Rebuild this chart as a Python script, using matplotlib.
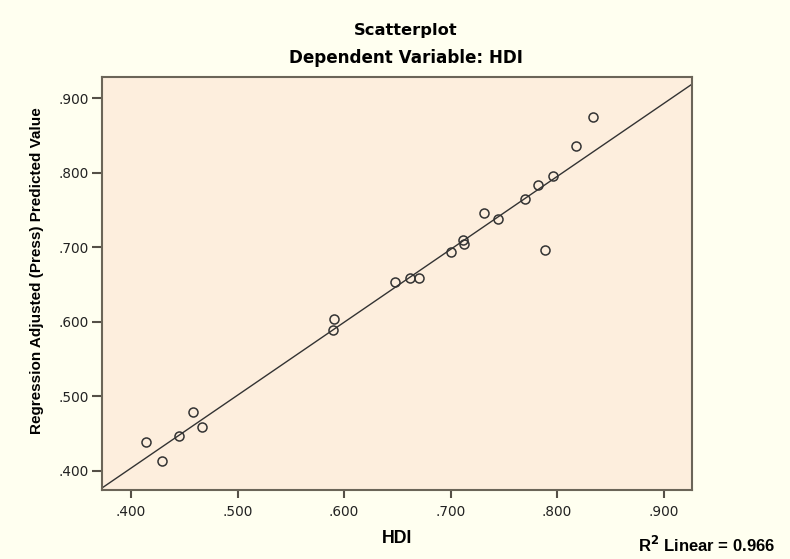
import numpy as np
import matplotlib.pyplot as plt

plt.rcParams['font.family'] = ['Liberation Sans', 'DejaVu Sans']

# DATOS ==========================================================
hdi = [0.414, 0.429, 0.445, 0.458, 0.467, 0.591, 0.590, 0.648, 0.662, 0.670,
       0.700, 0.712, 0.713, 0.789, 0.731, 0.745, 0.770, 0.782, 0.796, 0.818, 0.834]
pred = [0.438, 0.413, 0.446, 0.479, 0.459, 0.603, 0.589, 0.653, 0.659, 0.658,
        0.693, 0.709, 0.704, 0.696, 0.746, 0.738, 0.764, 0.784, 0.795, 0.836, 0.875]
fit_slope = 0.9786
fit_inter = 0.0119
r2_text = '0.966'
ticks = [0.4, 0.5, 0.6, 0.7, 0.8, 0.9]
tick_labels = ['.400', '.500', '.600', '.700', '.800', '.900']

# GRAFICO ========================================================
W, H = 790, 559
fig = plt.figure(figsize=(7.9, 5.59), dpi=100, facecolor='#fffff0')
ax = fig.add_axes([101.7/W, 1-490/H, (692.3-101.7)/W, (490-77.3)/H])
ax.set_facecolor('#fdeedd')

xlo, xhi = 0.3725, 0.927
ax.set_xlim(xlo, xhi)
ax.set_ylim(0.374, 0.928)

# linea de ajuste y puntos
xx = np.array([xlo, xhi])
ax.plot(xx, fit_slope*xx + fit_inter, color='#333333', lw=1.0, zorder=2)
ax.plot(hdi, pred, 'o', ms=6.5, mfc='none', mec='#333333', mew=1.1, zorder=3)

ax.set_xticks(ticks)
ax.set_xticklabels(tick_labels)
ax.set_yticks(ticks)
ax.set_yticklabels(tick_labels)
for lab in ax.get_xticklabels() + ax.get_yticklabels():
    lab.set_fontfamily('DejaVu Sans'); lab.set_fontsize(9.8)
ax.tick_params(direction='out', width=1.5, color='#555047', labelcolor='#222222')
ax.tick_params(axis='x', length=6, pad=4.8)
ax.tick_params(axis='y', length=7, pad=2.5)
for s in ax.spines.values():
    s.set_color('#6b6558'); s.set_linewidth(1.5)

ax.set_xlabel('HDI', fontsize=12.8, fontweight='bold')
ax.xaxis.set_label_coords(0.5008, -0.097)
ax.set_ylabel('Regression Adjusted (Press) Predicted Value', fontsize=11,
              fontweight='bold')
ax.yaxis.set_label_coords(-0.0985, 0.532)

fig.text(406/W, 1-35/H, 'Scatterplot', ha='center', va='baseline',
         family='DejaVu Sans', fontsize=11.7, fontweight='bold')
fig.text(406/W, 1-63.3/H, 'Dependent Variable: HDI', ha='center', va='baseline',
         family='DejaVu Sans', fontsize=12.1, fontweight='bold')
fig.text(706.6/W, 1-551.7/H, r'R$^\mathbf{2}$ Linear = ' + r2_text, ha='center', va='baseline',
         fontsize=12, fontweight='bold')

plt.savefig('out.png', dpi=100, facecolor=fig.get_facecolor())
